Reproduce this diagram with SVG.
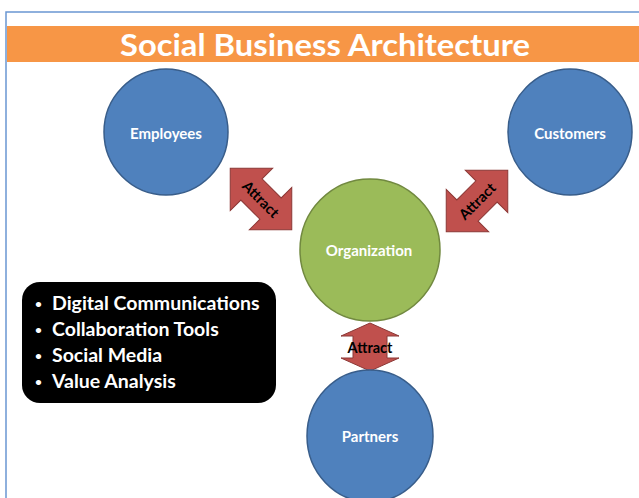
<svg xmlns="http://www.w3.org/2000/svg" width="639" height="498" viewBox="0 0 639 498">
<defs>
<style>
.blue{fill:#4F81BD;stroke:#385D8A;stroke-width:1.5}
.green{fill:#9BBB59;stroke:#71893F;stroke-width:1.5}
.arrow{fill:#C0504D;stroke:#8C3836;stroke-width:1}
.lbl{font-family:Lato,"Open Sans",sans-serif;font-weight:bold;font-size:15px;fill:#FFFFFF;text-anchor:middle;dominant-baseline:central}
.att{font-family:Lato,"Open Sans",sans-serif;font-weight:bold;font-size:14.5px;fill:#000000;text-anchor:middle;dominant-baseline:central}
.bul{font-family:Lato,"Open Sans",sans-serif;font-weight:bold;font-size:19.5px;fill:#FFFFFF}
</style>
<path id="darr" d="M-43.5,0 L-13.5,-30 L-13.5,-15 L13.5,-15 L13.5,-30 L43.5,0 L13.5,30 L13.5,15 L-13.5,15 L-13.5,30 Z"/>
</defs>
<rect x="0" y="0" width="639" height="498" fill="#FFFFFF"/>
<rect x="6" y="12" width="640" height="500" fill="#FFFFFF" stroke="#6A97D2" stroke-width="1.5"/>
<g id="title">
<rect x="7" y="26" width="632" height="36" fill="#F79646"/>
<text x="325" y="44" font-family="Lato,'Open Sans',sans-serif" font-weight="bold" font-size="30" fill="#FFFFFF" text-anchor="middle" dominant-baseline="central" textLength="410" lengthAdjust="spacingAndGlyphs">Social Business Architecture</text>
</g>
<g id="connectors">
<g transform="translate(261,199) rotate(45)">
<use href="#darr" class="arrow"/>
<text class="att" x="0" y="0">Attract</text>
</g>
<g transform="translate(477,201) rotate(-45)">
<use href="#darr" class="arrow"/>
<text class="att" x="0" y="0">Attract</text>
</g>
<g>
<path class="arrow" d="M370,323 L399,336 L387,336 L387,358 L399,358 L370,371 L341,358 L353,358 L353,336 L341,336 Z"/>
<text class="att" x="370" y="347">Attract</text>
</g>
</g>
<g id="employees">
<ellipse class="blue" cx="166" cy="132" rx="62" ry="63"/>
<text class="lbl" x="166" y="133">Employees</text>
</g>
<g id="customers">
<ellipse class="blue" cx="570" cy="132" rx="62" ry="63"/>
<text class="lbl" x="570" y="133">Customers</text>
</g>
<g id="organization">
<ellipse class="green" cx="370" cy="250" rx="70" ry="71"/>
<text class="lbl" x="369" y="250">Organization</text>
</g>
<g id="partners">
<ellipse class="blue" cx="370" cy="436" rx="63" ry="66"/>
<text class="lbl" x="370" y="436">Partners</text>
</g>
<g id="list">
<rect x="22" y="282" width="254" height="121" rx="18" ry="18" fill="#000000"/>
<g class="bul">
<text x="35" y="308" font-size="12">•</text>
<text x="35" y="334" font-size="12">•</text>
<text x="35" y="360" font-size="12">•</text>
<text x="35" y="386" font-size="12">•</text>
<text x="52" y="310">Digital Communications</text>
<text x="52" y="336">Collaboration Tools</text>
<text x="52" y="362">Social Media</text>
<text x="52" y="388">Value Analysis</text>
</g>
</g>
</svg>
